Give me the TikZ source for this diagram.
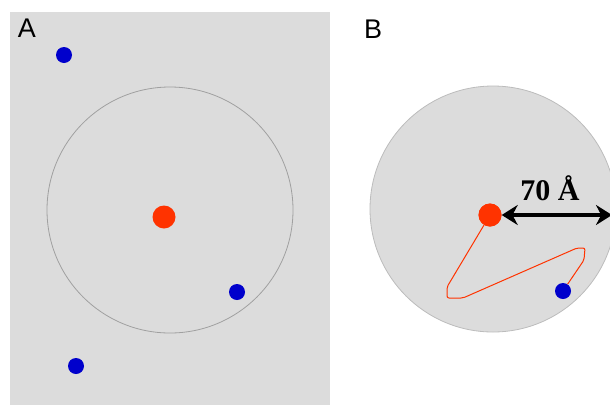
\documentclass[tikz,border=0pt]{standalone}
\usepackage{fontspec}
\setmainfont{Liberation Serif}
\setsansfont{Liberation Sans}
\usetikzlibrary{arrows.meta}
\definecolor{panelgray}{RGB}{220,220,220}
\definecolor{rimgray}{RGB}{160,160,160}
\definecolor{dotred}{RGB}{255,51,0}
\definecolor{dotblue}{RGB}{0,0,204}

\begin{document}
\begin{tikzpicture}[x=1pt,y=-1pt,
    reddot/.style={circle,fill=dotred,inner sep=0pt,minimum size=23pt},
    bluedot/.style={circle,fill=dotblue,inner sep=0pt,minimum size=16pt},
    panellabel/.style={font=\sffamily\fontsize{27}{27}\selectfont}]
  \useasboundingbox (0,0) rectangle (610,405);
  % panel A
  \fill[panelgray] (10,12) rectangle (330,405);
  \draw[rimgray,line width=0.8pt] (170,210) circle (123pt);
  \node[panellabel] (labA) at (27,28) {A};
  \node[reddot] (redA) at (164,217) {};
  \node[bluedot] (blueA1) at (64,55) {};
  \node[bluedot] (blueA2) at (237,292) {};
  \node[bluedot] (blueA3) at (76,366) {};
  % panel B
  \draw[rimgray!70,fill=panelgray,line width=0.8pt] (493,209) circle (123pt);
  \node[panellabel] (labB) at (373,29) {B};
  \node[reddot] (redB) at (490,215) {};
  \node[bluedot] (blueB) at (563,291) {};
  \coordinate (edgeB) at (612,215);
  \draw[dotred,line width=1pt,line join=round,rounded corners=2pt]
    (redB) -- (447,287) -- (447,298) -- (463,298) -- (577,248)
    -- (585,248) -- (584,260) -- (blueB);
  \node[reddot] at (redB) {};
  \draw[line width=3.5pt,{Stealth[length=16pt,width=20pt]}-{Stealth[length=16pt,width=20pt]}]
    (redB.east) -- (edgeB);
  \node[font=\bfseries\fontsize{30}{30}\selectfont] (dist) at (550,188) {70 Å};
\end{tikzpicture}
\end{document}
